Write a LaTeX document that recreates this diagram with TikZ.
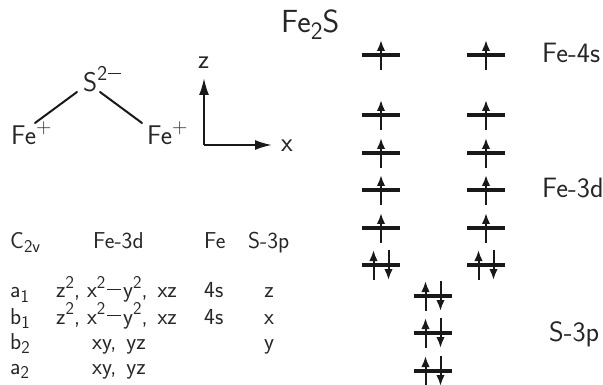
\documentclass[tikz,border=0pt]{standalone}
\usetikzlibrary{arrows.meta}
\newcommand{\supr}[1]{\raisebox{0.42em}{\scalebox{0.78}{#1}}}
\newcommand{\subr}[1]{\raisebox{-0.2em}{\scalebox{0.78}{#1}}}
\newcommand{\mn}{\raisebox{0.33em}{\rule{0.6em}{0.05em}}}
\newcommand{\dterm}{z\supr{2},\hspace{7pt}x\supr{2}\hspace{2pt}\mn\hspace{2pt}y\supr{2},\hspace{10pt}xz}
\tikzset{
  x=1pt,y=-1pt,
  mol/.style={inner sep=0pt,anchor=base west,font=\fontsize{27}{30}\selectfont\sffamily,text=black!85},
  big/.style={inner sep=0pt,anchor=base west,font=\fontsize{28}{30}\selectfont\sffamily,text=black!85},
  huge/.style={inner sep=0pt,anchor=base west,font=\fontsize{32}{36}\selectfont\sffamily,text=black!85},
  tab/.style={inner sep=0pt,anchor=base west,font=\fontsize{23}{25}\selectfont\sffamily,text=black!85},
  tabc/.style={inner sep=0pt,anchor=base,font=\fontsize{23}{25}\selectfont\sffamily,text=black!85},
  level/.style={draw=none,fill=black!90,minimum width=38pt,minimum height=3.5pt,inner sep=0pt,outer sep=0pt},
  spinu/.style={line width=2pt,draw=black!90,-{Latex[length=11pt,width=8.5pt]}},
  bond/.style={line width=2pt,draw=black!90,line cap=round},
  axis/.style={line width=2pt,draw=black!90,-{Latex[length=17pt,width=10pt]}},
}
\newcommand{\lvS}[3]{% name, x, y : single electron
  \node[level] (#1) at (#2,#3) {};
  \coordinate (#1b) at ([yshift=-15pt]#1.center);
  \coordinate (#1t) at ([yshift=15pt]#1.center);
  \draw[spinu] (#1b) -- (#1t);
}
\newcommand{\lvD}[3]{% name, x, y : pair
  \node[level] (#1) at (#2,#3) {};
  \coordinate (#1ub) at ([xshift=-7.5pt,yshift=-15pt]#1.center);
  \coordinate (#1ut) at ([xshift=-7.5pt,yshift=15pt]#1.center);
  \coordinate (#1dt) at ([xshift=7.5pt,yshift=15pt]#1.center);
  \coordinate (#1db) at ([xshift=7.5pt,yshift=-15pt]#1.center);
  \draw[spinu] (#1ub) -- (#1ut);
  \draw[spinu] (#1dt) -- (#1db);
}
\begin{document}
\begin{tikzpicture}
\useasboundingbox (0,0) rectangle (603,385);
% title
\node[huge] (title) at (281,33) {Fe\subr{2}S};
% molecule
\node[mol] (s) at (83,92) {S\supr{2\hspace{1pt}\mn}};
\node[mol] (fel) at (11,145) {Fe\supr{+}};
\node[mol] (fer) at (147,145) {Fe\supr{+}};
\coordinate (b1a) at (35,123);
\coordinate (b1b) at (77,92);
\coordinate (b2a) at (100,92);
\coordinate (b2b) at (142,123);
\draw[bond] (b1a) -- (b1b);
\draw[bond] (b2a) -- (b2b);
% axes
\coordinate (o) at (204,145);
\coordinate (zt) at (204,78);
\coordinate (xt) at (272,145);
\draw[axis] (o) -- (zt);
\draw[axis] (o) -- (xt);
\node[mol] (zl) at (198,69) {z};
\node[mol] (xl) at (281,152) {x};
% table
\node[tab] (h1) at (10,248) {C\subr{2v}};
\node[tab] (h2) at (93,248) {Fe-3d};
\node[tab] (h3) at (204,248) {Fe};
\node[tab] (h4) at (248,248) {S-3p};
\node[tab] (a1) at (10,298) {a\subr{1}};
\node[tab] (a1d) at (56,298) {\dterm};
\node[tab] (a1s) at (204,298) {4s};
\node[tabc] (a1p) at (269,298) {z};
\node[tab] (b1) at (10,324) {b\subr{1}};
\node[tab] (b1d) at (56,324) {\dterm};
\node[tab] (b1s) at (204,324) {4s};
\node[tabc] (b1p) at (269,324) {x};
\node[tab] (b2) at (10,349) {b\subr{2}};
\node[tab] (b2d) at (92,349) {xy,\hspace{3pt} yz};
\node[tabc] (b2p) at (269,349) {y};
\node[tab] (a2) at (10,374) {a\subr{2}};
\node[tab] (a2d) at (92,374) {xy,\hspace{3pt} yz};
% levels
\lvS{la}{381}{55}
\lvS{lb}{486}{55}
\lvS{lc}{381}{115}
\lvS{ld}{486}{115}
\lvS{le}{381}{153}
\lvS{lf}{486}{153}
\lvS{lg}{381}{190}
\lvS{lh}{486}{190}
\lvS{li}{381}{228}
\lvS{lj}{486}{228}
\lvD{lk}{381}{265}
\lvD{ll}{486}{265}
\lvD{lm}{433}{296}
\lvD{ln}{433}{333}
\lvD{lo}{433}{371}
% right labels
\node[big] (r1) at (542,63) {Fe-4s};
\node[big] (r2) at (542,198) {Fe-3d};
\node[big] (r3) at (549,341) {S-3p};
\end{tikzpicture}
\end{document}
